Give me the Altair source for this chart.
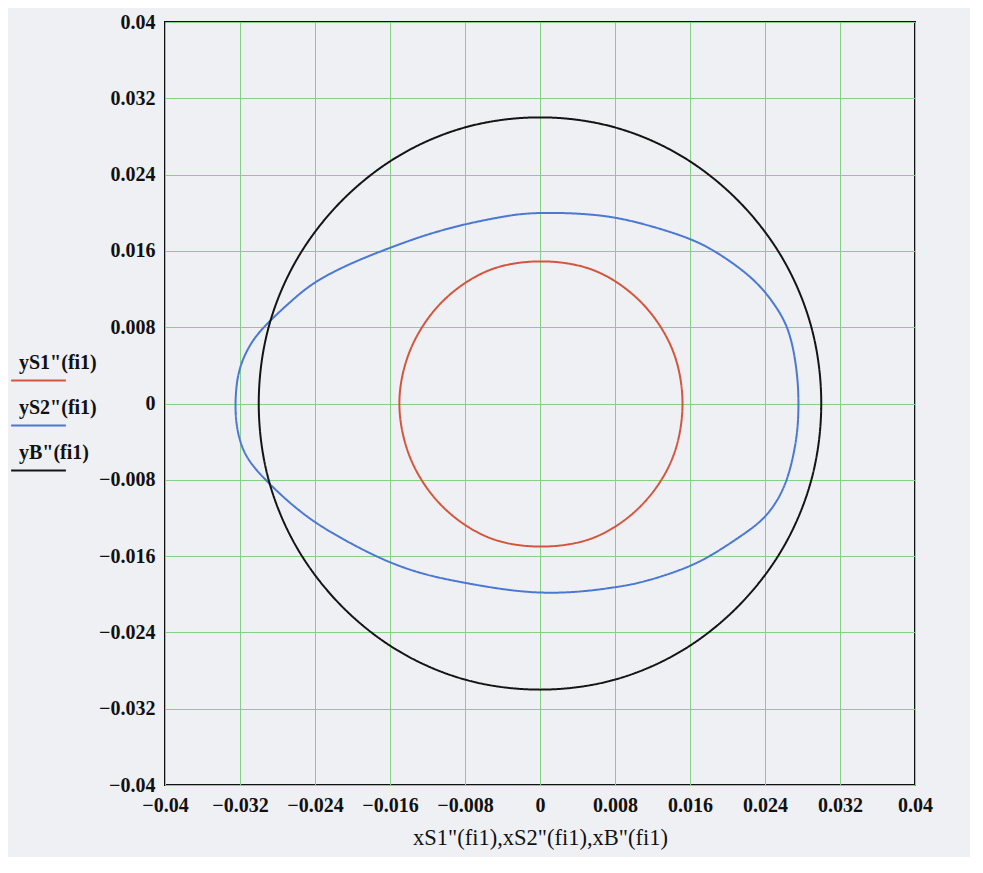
import altair as alt
import pandas as pd

series_names = ['yS1"(fi1)', 'yS2"(fi1)', 'yB"(fi1)']
series_colors = ["#d4553e", "#4a78d2", "#141414"]
tick_values = [-0.04, -0.032, -0.024, -0.016, -0.008, 0.0, 0.008, 0.016, 0.024, 0.032, 0.04]
x_title = 'xS1"(fi1),xS2"(fi1),xB"(fi1)'

red_x = [0.0152, 0.0141, 0.0108, 0.0059, 0.0001, -0.0056, -0.0105, -0.0138,
         -0.0150, -0.0138, -0.0105, -0.0056, 0.0001, 0.0059, 0.0108, 0.0141]
red_y = [0.0000, 0.0057, 0.0106, 0.0139, 0.0149, 0.0139, 0.0106, 0.0057,
         0.0000, -0.0058, -0.0107, -0.0140, -0.0150, -0.0140, -0.0107, -0.0058]

blue_x = [0.0276, 0.0275, 0.0271, 0.0264, 0.0253, 0.0238, 0.0219, 0.0187, 0.0159, 0.0109,
          0.0072, 0.0030, -0.0015, -0.0045, -0.0081, -0.0122, -0.0161, -0.0200, -0.0241, -0.0266,
          -0.0289, -0.0307, -0.0321, -0.0325, -0.0325, -0.0318, -0.0307, -0.0293, -0.0271, -0.0241,
          -0.0200, -0.0161, -0.0122, -0.0081, -0.0040, -0.0001, 0.0040, 0.0079, 0.0109, 0.0159,
          0.0187, 0.0219, 0.0238, 0.0253, 0.0264, 0.0271, 0.0275]
blue_y = [0.0000, 0.0025, 0.0055, 0.0081, 0.0100, 0.0120, 0.0138, 0.0160, 0.0174, 0.0189,
          0.0197, 0.0200, 0.0200, 0.0195, 0.0188, 0.0177, 0.0163, 0.0148, 0.0128, 0.0107,
          0.0086, 0.0067, 0.0039, 0.0011, -0.0020, -0.0048, -0.0065, -0.0080, -0.0101, -0.0125,
          -0.0148, -0.0167, -0.0180, -0.0188, -0.0195, -0.0199, -0.0198, -0.0193, -0.0188, -0.0172,
          -0.0157, -0.0136, -0.0122, -0.0103, -0.0080, -0.0052, -0.0027]

black_x = [0.0300, 0.0290, 0.0260, 0.0212, 0.0150, 0.0078, 0.0000, -0.0078, -0.0150, -0.0212,
           -0.0260, -0.0290, -0.0300, -0.0290, -0.0260, -0.0212, -0.0150, -0.0078, 0.0000, 0.0078,
           0.0150, 0.0212, 0.0260, 0.0290]
black_y = [0.0000, 0.0078, 0.0150, 0.0212, 0.0260, 0.0290, 0.0300, 0.0290, 0.0260, 0.0212,
           0.0150, 0.0078, 0.0000, -0.0078, -0.0150, -0.0212, -0.0260, -0.0290, -0.0300, -0.0290,
           -0.0260, -0.0212, -0.0150, -0.0078]

rows = []
for name, xs, ys in zip(series_names, [red_x, blue_x, black_x], [red_y, blue_y, black_y]):
    for i, (xv, yv) in enumerate(zip(xs, ys)):
        rows.append({"series": name, "label": name, "i": i, "x": xv, "y": yv})
df = pd.DataFrame(rows)

FONT = "Liberation Serif"
GRID = "#86cf86"
LEG_X = -155
LEG_Y = 330
ROW_PAD = 12


def legend(y, show_symbols, show_labels):
    opts = dict(title=None, orient="none", legendX=LEG_X, legendY=y,
                symbolType="stroke", symbolSize=3000, symbolStrokeWidth=2,
                symbolOpacity=1 if show_symbols else 0,
                labelOpacity=1 if show_labels else 0,
                labelOffset={"expr": "-48"}, labelFont=FONT, labelFontSize=20,
                labelFontWeight="bold", labelColor="#111",
                labelBaseline="alphabetic", labelLimit=200,
                rowPadding=ROW_PAD)
    if not show_labels:
        opts["labelExpr"] = "' '"
    return alt.Legend(**opts)


x_scale = alt.Scale(domain=[-0.04, 0.04], nice=False, zero=False)
y_scale = alt.Scale(domain=[-0.04, 0.04], nice=False, zero=False)

base = alt.Chart(df).encode(
    x=alt.X("x:Q", scale=x_scale,
            axis=alt.Axis(values=tick_values, format=".3~f", title=x_title,
                          ticks=False, domain=False, grid=True, gridColor=GRID, gridWidth=1,
                          labelFlush=False, labelOverlap=False, labelPadding=10,
                          labelFont=FONT, labelFontSize=20, labelFontWeight="bold", labelColor="#111",
                          titleFont=FONT, titleFontSize=22.5, titleFontWeight="normal", titleColor="#111",
                          titlePadding=11)),
    y=alt.Y("y:Q", scale=y_scale,
            axis=alt.Axis(values=tick_values, format=".3~f", title=None,
                          ticks=False, domain=False, grid=True, gridColor=GRID, gridWidth=1,
                          labelFlush=False, labelOverlap=False, labelPadding=10,
                          labelFont=FONT, labelFontSize=20, labelFontWeight="bold", labelColor="#111")),
    color=alt.Color("series:N", scale=alt.Scale(domain=series_names, range=series_colors),
                    legend=legend(LEG_Y, True, False)),
    strokeDash=alt.StrokeDash("label:N", sort=series_names,
                              scale=alt.Scale(range=[[1, 0], [1, 0], [1, 0]]),
                              legend=legend(LEG_Y - 12, False, True)),
    order=alt.Order("i:Q"),
)

blue_name = series_names[1]
circles = base.transform_filter(alt.datum.series != blue_name).mark_line(
    strokeWidth=2, interpolate="cardinal-closed")
egg = base.transform_filter(alt.datum.series == blue_name).mark_line(
    strokeWidth=2, interpolate="basis-closed")

chart = alt.layer(egg, circles).properties(
    width=750, height=763,
    autosize=alt.AutoSizeParams(type="none"),
    padding={"left": 157, "top": 14, "right": 55, "bottom": 72},
).configure(background="#eef0f4").configure_view(stroke="#111", strokeWidth=2)

chart.save("out.html", embed_options={"renderer": "svg", "actions": False})
